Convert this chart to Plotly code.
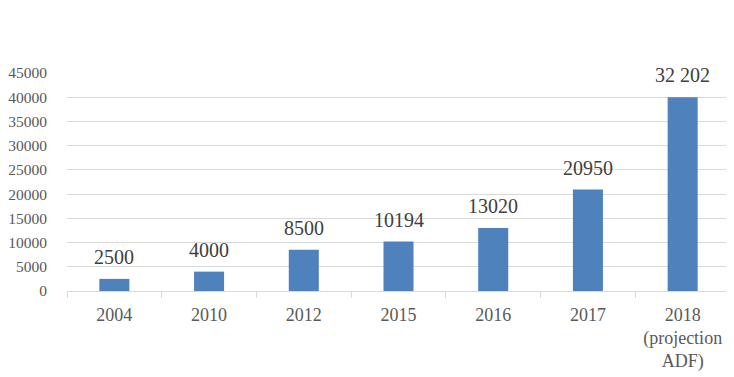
import plotly.graph_objects as go

categories = ["2004", "2010", "2012", "2015", "2016", "2017", "2018<br>(projection<br>ADF)"]
values = [2500, 4000, 8500, 10194, 13020, 20950, 40000]
value_labels = ["2500", "4000", "8500", "10194", "13020", "20950", "32 202"]
y_ticks = [0, 5000, 10000, 15000, 20000, 25000, 30000, 35000, 40000, 45000]

FONT = "Liberation Serif"

fig = go.Figure()
fig.add_trace(go.Bar(
    x=categories, y=values,
    marker=dict(color="#4F81BD", line=dict(width=0)),
    hoverinfo="skip",
))

for i, (v, t) in enumerate(zip(values, value_labels)):
    fig.add_annotation(
        x=i, y=v, text=t, showarrow=False,
        xanchor="center", yanchor="bottom", yshift=9,
        font=dict(family=FONT, size=20, color="#404040"),
    )

fig.update_layout(
    width=734, height=377,
    margin=dict(l=59, r=12, t=65, b=94),
    paper_bgcolor="white", plot_bgcolor="white",
    showlegend=False,
    bargap=0.683,
    font=dict(family=FONT, color="#595959"),
)
fig.update_xaxes(
    type="category",
    range=[-0.5, len(categories) - 0.5],
    showline=True, linecolor="#d9d9d9", linewidth=1,
    ticks="outside", tickson="boundaries", ticklen=6, tickcolor="#d9d9d9",
    tickfont=dict(family=FONT, size=18, color="#595959"),
    tickangle=0, ticklabelstandoff=7,
    showgrid=False,
    automargin=False,
)
fig.update_yaxes(
    range=[0, 45000],
    tickvals=y_ticks, ticktext=[str(v) for v in y_ticks],
    showgrid=True, gridcolor="#d9d9d9", gridwidth=1,
    zeroline=False, showline=False,
    ticks="", ticklabelstandoff=19,
    tickfont=dict(family=FONT, size=15.5, color="#595959"),
    automargin=False,
)

fig.write_html("out.html")
